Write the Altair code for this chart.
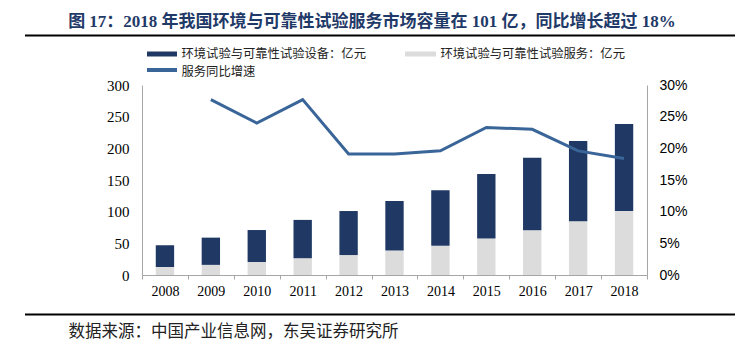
import altair as alt
import pandas as pd

years = ["2008", "2009", "2010", "2011", "2012", "2013", "2014", "2015", "2016", "2017", "2018"]
equipment = [34.5, 43, 50.5, 60.5, 69.5, 78.5, 88, 102, 114.5, 126.5, 137.5]
service = [12.5, 16, 20.5, 26.5, 31.5, 38.5, 46, 57.5, 70.5, 85, 101]
growth = [None, 0.277, 0.240, 0.277, 0.191, 0.191, 0.196, 0.233, 0.230, 0.196, 0.184]

name_eq = "环境试验与可靠性试验设备：亿元"
name_sv = "环境试验与可靠性试验服务：亿元"
name_gr = "服务同比增速"
title_text = "图 17：2018 年我国环境与可靠性试验服务市场容量在 101 亿，同比增长超过 18%"
source_text = "数据来源：中国产业信息网，东吴证券研究所"

NAVY = "#1F3864"
LIGHT = "#DCDCDC"
LINEC = "#3A6598"
AXISC = "#A6A6A6"
CJK = "Noto Sans CJK SC"
SERIF = "Liberation Serif, Noto Sans CJK SC"

rows = []
for y, e, s in zip(years, equipment, service):
    rows.append({"year": y, "series": name_sv, "value": s, "ord": 0})
    rows.append({"year": y, "series": name_eq, "value": e, "ord": 1})
bars_df = pd.DataFrame(rows)
line_df = pd.DataFrame({"year": years, "growth": growth}).dropna()
one = pd.DataFrame({"k": [0]})

x_enc = alt.X(
    "year:O",
    title=None,
    sort=years,
    scale=alt.Scale(paddingInner=0, paddingOuter=0),
    axis=alt.Axis(
        labelAngle=0, labelFont="Liberation Serif", labelFontSize=14, labelColor="#000",
        domainColor=AXISC, tickColor=AXISC, tickSize=4, tickBand="extent",
        labelPadding=5, grid=False,
    ),
)

bars = alt.Chart(bars_df).mark_bar(width=alt.RelativeBandSize(0.4)).encode(
    x=x_enc,
    y=alt.Y(
        "value:Q", stack="zero", title=None,
        scale=alt.Scale(domain=[0, 300], nice=False),
        axis=alt.Axis(
            values=[0, 50, 100, 150, 200, 250, 300], labelFont="Liberation Serif",
            labelFontSize=15, labelColor="#000", domainColor=AXISC, ticks=False,
            labelPadding=13, grid=False,
        ),
    ),
    color=alt.Color("series:N", scale=alt.Scale(domain=[name_eq, name_sv], range=[NAVY, LIGHT]), legend=None),
    order=alt.Order("ord:Q", sort="ascending"),
)

line = alt.Chart(line_df).mark_line(color=LINEC, strokeWidth=3).encode(
    x=alt.X("year:O", sort=years),
    y=alt.Y(
        "growth:Q", title=None,
        scale=alt.Scale(domain=[0, 0.3], nice=False),
        axis=alt.Axis(
            orient="right", values=[0, 0.05, 0.1, 0.15, 0.2, 0.25, 0.3], format=".0%",
            labelFont="Liberation Sans", labelFontSize=14, labelColor="#000",
            domainColor=AXISC, ticks=False, labelPadding=12, grid=False,
        ),
    ),
)

def txt(text, x, y, size, font=CJK, weight="normal", color="#222", align="left"):
    return alt.Chart(one).mark_text(
        text=text, font=font, fontSize=size, fontWeight=weight, color=color,
        align=align, baseline="middle",
    ).encode(x=alt.value(x), y=alt.value(y))

def rect(x1, x2, y1, y2, color):
    return alt.Chart(one).mark_rect(color=color).encode(
        x=alt.value(x1), x2=alt.value(x2), y=alt.value(y1), y2=alt.value(y2)
    )

def rule(x1, x2, y, color, w):
    return alt.Chart(one).mark_rule(color=color, strokeWidth=w).encode(
        x=alt.value(x1), x2=alt.value(x2), y=alt.value(y)
    )

deco = [
    txt(title_text, 230, -63.5, 17, font=SERIF, weight="bold", color="#1F3A68", align="center"),
    rule(-117, 593, -49.5, "#000", 2),
    rect(5, 35, -33.5, -28.5, NAVY),
    txt(name_eq, 39.5, -31, 12.3),
    rect(263, 294, -33.5, -28.5, LIGHT),
    txt(name_sv, 298.5, -31, 12.3),
    rule(5, 35, -15, LINEC, 4),
    txt(name_gr, 39.5, -13, 12.3),
    rule(-117, 593, 229.5, "#000", 2),
    txt(source_text, -73.5, 246.5, 16.5),
]

chart = alt.layer(bars, line, *deco).resolve_scale(y="independent").properties(
    width=505, height=190,
    autosize=alt.AutoSizeParams(type="none"),
    padding={"left": 142, "top": 85, "right": 103, "bottom": 74},
    background="white",
).configure_view(stroke=None)

chart.save("out.html", embed_options={"renderer": "svg", "actions": False})
